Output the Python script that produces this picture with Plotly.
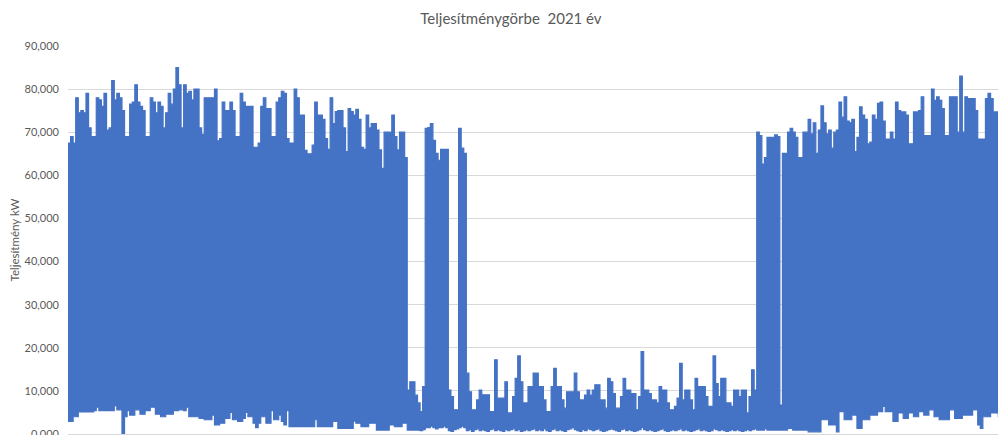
import numpy as np
import plotly.graph_objects as go

# Daily maximum load, thousand kW (days of 2021, day 0 = 1 Jan)
daily_max_k = [
    67.5, 69, 67.5, 78, 74.5, 75, 74.5, 79, 71, 69, 69, 78, 77.5, 76, 79, 70.5, 71, 82, 77.5, 79,
    78, 75, 69, 69, 76.5, 77, 81, 77, 76, 75, 69, 69, 78, 77, 74.5, 77, 76, 71, 74.5, 79,
    76.5, 80, 85, 81, 71,
    81, 79, 79.5, 77.5, 80, 80, 71, 69.5, 78, 78, 78, 78, 80, 68, 68.5, 77, 75, 75, 77, 75,
    69, 69, 79, 77, 76, 76, 76, 66.5, 66.5, 67.5, 76, 78, 75.5, 75.5, 69, 69, 77, 78, 79.5, 79,
    68.5, 67.5, 67.5, 80, 78, 74,
    74, 65.8, 65, 65, 67, 77, 74, 74, 73, 68.5, 66, 78, 72, 74.8, 75, 75, 71, 65.5, 75.5, 74.8,
    74, 75.3, 73, 66.5, 66, 74, 71, 72, 72, 70.5, 65.9, 61.6, 70, 70, 70, 74, 69, 65.9, 70, 70,
    64.1, 10.2, 12.1, 12.1, 9, 7.2,
    5.2, 11, 70.9, 71.1, 72, 68.1, 65.1, 63.5, 66, 66, 66, 10.2, 8.7, 5.6, 5.6, 70.9, 66.3, 65.1, 14.1, 9.8,
    5.6, 5.6, 7.9, 10.2, 9.1, 9.1, 9.1, 5.2, 5.2, 17.2, 8.3, 8.3, 8.3, 12.1, 4.9, 4.9, 8.7, 12.9, 18.1, 12.1,
    7.2, 7.2, 11, 11, 14.1, 14.1,
    11, 11, 7.9, 5.2, 5.2, 11, 15.2, 11, 11, 7.9, 6, 9.8, 9.8, 9.8, 14.1, 9.8, 7.9, 7.9, 9, 10.2,
    9, 10.2, 11.4, 11.4, 7.9, 7.9, 6, 12.9, 12.1, 9.4, 6, 6, 8.7, 12.9, 10.2, 10.2, 9.4, 9.4, 5.6, 8.7,
    19.1, 10.2, 10.2, 9.4, 7.9, 7.9,
    7.2, 11, 10.2, 10.2, 7.2, 5.6, 5.6, 6.4, 8.3, 16.4, 7.9, 10.2, 10.2, 7.9, 5.6, 12.9, 11, 11, 11, 8.7,
    6.4, 6.4, 18.1, 11.7, 8.7, 12.9, 12.9, 7.2, 7.2, 6.4, 10.2, 10.2, 8.7, 10.2, 10.2, 4.9, 8.7, 14.9, 10.2, 70,
    69.2, 62.6, 64.1, 68.8, 68.8, 68.8,
    69.4, 69, 6.7, 65.1, 65.1, 70, 70.9, 70, 68.8, 64.1, 64.1, 70, 70, 73, 69.6, 72.2, 65.1, 70.5, 76.1, 72.2,
    69.6, 70.5, 66.3, 70, 70.5, 77, 73.5, 78.2, 72.6, 72.2, 73, 65.5, 68.8, 75.9, 74, 73, 67.3, 67.7, 74, 73,
    76.7, 77, 72.6, 68.4, 68.4, 70,
    68.4, 77, 75, 74.7, 74.7, 74, 67.3, 67.3, 74.7, 74.7, 75, 78.2, 69.2, 69.2, 69.2, 80, 77.4, 78.2, 77.4, 75.5,
    69.2, 69.2, 78.2, 78.2, 78.2, 70, 83, 70, 78.2, 77.8, 77.8, 77.8, 75, 68.4, 68.4, 68.4, 77.8, 79, 77.8, 74.7,
    74.7, 68.1, 69.2, 81.8,
]

# Daily minimum load, thousand kW
daily_min_k = [
    2.9, 2.9, 4.0, 4.0, 5.1, 5.1, 5.1, 5.1, 5.1, 5.1, 5.4, 6.2, 5.4, 5.4, 5.4, 5.4, 5.4, 5.4, 6.5, 5.6,
    5.6, 0.0, 4.0, 5.4, 4.4, 4.4, 5.6, 5.6, 4.6, 4.6, 5.4, 5.4, 6.2, 6.2, 4.6, 4.6, 4.0, 4.0, 4.6, 4.6,
    4.6, 5.4, 5.4, 5.6, 5.6,
    5.4, 6.2, 4.0, 4.0, 4.0, 4.0, 3.6, 3.6, 3.3, 3.3, 3.3, 4.4, 2.1, 2.1, 2.5, 2.5, 3.6, 3.6, 5.0, 3.3,
    3.3, 2.9, 2.9, 3.6, 5.0, 4.0, 4.0, 2.5, 1.5, 2.5, 4.0, 4.0, 2.5, 2.5, 5.4, 3.3, 3.3, 4.4, 2.9, 2.1,
    5.4, 1.7, 1.7, 1.7, 1.7, 1.7,
    1.7, 1.7, 1.7, 1.7, 1.7, 3.3, 1.7, 1.7, 1.7, 1.7, 1.7, 1.7, 2.9, 2.9, 1.3, 1.3, 1.3, 1.3, 1.3, 1.3,
    3.0, 2.5, 2.5, 1.7, 1.7, 1.7, 2.5, 2.5, 2.5, 0.9, 0.9, 0.9, 0.9, 0.9, 2.1, 2.1, 1.7, 1.7, 1.7, 2.5,
    2.5, 0.9, 0.9, 0.9, 0.9, 0.9,
    0.8, 1.0, 1.5, 1.5, 1.8, 1.5, 1.2, 1.5, 1.5, 1.8, 1.5, 0.8, 0.6, 1.0, 1.2, 1.5, 1.8, 1.5, 0.8, 1.0,
    0.6, 1.0, 1.2, 0.8, 1.0, 0.8, 0.6, 1.0, 1.2, 0.8, 1.0, 0.8, 0.6, 1.0, 0.8, 1.0, 1.2, 0.8, 1.0, 0.6,
    0.8, 1.0, 0.8, 1.0, 1.2, 0.8,
    1.0, 0.8, 1.2, 0.8, 0.6, 1.0, 1.2, 0.8, 1.0, 0.8, 0.6, 1.0, 1.2, 1.5, 1.0, 0.8, 0.6, 1.0, 0.8, 1.2,
    1.0, 0.8, 1.0, 1.2, 0.8, 0.6, 0.8, 1.0, 1.2, 1.0, 0.8, 0.6, 1.0, 1.2, 0.8, 1.0, 0.8, 0.6, 0.8, 1.0,
    1.5, 1.0, 0.8, 1.0, 0.8, 0.6,
    0.8, 1.0, 1.2, 0.8, 0.6, 0.8, 1.0, 0.8, 1.0, 1.2, 0.8, 1.0, 0.8, 0.6, 0.8, 1.0, 1.2, 0.8, 1.0, 0.8,
    0.6, 0.8, 1.2, 1.0, 0.8, 1.0, 0.8, 0.6, 0.8, 1.0, 0.8, 1.0, 0.8, 0.6, 0.8, 1.0, 0.8, 1.0, 1.2, 0.9,
    0.9, 0.9, 1.2, 0.9, 0.9, 0.9,
    0.9, 0.9, 0.9, 0.9, 0.9, 1.3, 1.3, 0.9, 0.9, 0.9, 0.9, 0.9, 0.9, 0.5, 0.5, 0.5, 0.5, 0.5, 3.3, 3.3,
    3.3, 2.1, 2.1, 2.1, 0.5, 5.2, 5.2, 3.3, 3.3, 3.3, 4.4, 4.4, 1.3, 1.3, 3.3, 3.3, 3.3, 4.4, 4.4, 4.4,
    5.2, 5.2, 6.4, 5.2, 5.2, 5.2,
    2.9, 2.9, 4.9, 4.9, 3.6, 3.6, 4.9, 4.9, 4.0, 4.0, 5.2, 5.2, 4.4, 4.4, 5.6, 5.6, 4.0, 4.0, 3.3, 3.3,
    3.3, 3.3, 5.6, 5.6, 3.6, 3.6, 3.6, 4.4, 4.4, 4.4, 4.4, 5.6, 5.6, 2.1, 1.3, 4.0, 4.0, 4.0, 4.9, 4.9,
    4.9, 4.0, 4.0, 4.0,
]

y_ticks = [0, 10000, 20000, 30000, 40000, 50000, 60000, 70000, 80000, 90000]

TITLE = "Teljesítménygörbe  2021 év"
Y_TITLE = "Teljesítmény kW"

n = min(len(daily_max_k), len(daily_min_k))
hi = np.array(daily_max_k[:n]) * 1000
lo = np.array(daily_min_k[:n]) * 1000
days = np.arange(n + 1)
hi = np.append(hi, hi[-1])
lo = np.append(lo, lo[-1])

blue = "#4472C4"
grey = "#595959"
font_family = "Lato, 'Open Sans', sans-serif"

# The page body has an 8px margin; the figure runs a little past the window bottom,
# as the original chart is cut off just below the zero line.
fig_w, fig_h = 998, 435

fig = go.Figure()
fig.add_trace(go.Scatter(x=days, y=lo, mode="lines", line=dict(color=blue, width=1.2, shape="hv"),
                         hoverinfo="skip", showlegend=False))
fig.add_trace(go.Scatter(x=days, y=hi, mode="lines", line=dict(color=blue, width=1.2, shape="hv"),
                         fill="tonexty", fillcolor=blue, showlegend=False))

fig.update_layout(
    width=fig_w, height=fig_h,
    margin=dict(l=60, r=0, t=38, b=9, autoexpand=False),
    paper_bgcolor="white", plot_bgcolor="white",
    font=dict(family=font_family, color=grey, size=11),
    title=dict(text=TITLE, x=0.504, xref="container", xanchor="center",
               y=1 - 11 / fig_h, yref="container", yanchor="middle",
               font=dict(family=font_family, size=15, color=grey)),
    xaxis=dict(range=[0, n], showticklabels=False, showgrid=False, zeroline=False,
               ticks="", showline=True, linecolor="#d9d9d9", linewidth=1, automargin=False),
    yaxis=dict(range=[0, 90000], tickvals=y_ticks,
               ticktext=[f"{v // 1000},000" for v in y_ticks],
               showgrid=True, gridcolor="#d9d9d9", gridwidth=1, zeroline=False,
               ticks="", ticklabelstandoff=8, automargin=False,
               tickfont=dict(family=font_family, size=11, color=grey),
               title=dict(text=Y_TITLE, standoff=6,
                          font=dict(family=font_family, size=11.5, color=grey))),
)

fig.write_html("out.html")
